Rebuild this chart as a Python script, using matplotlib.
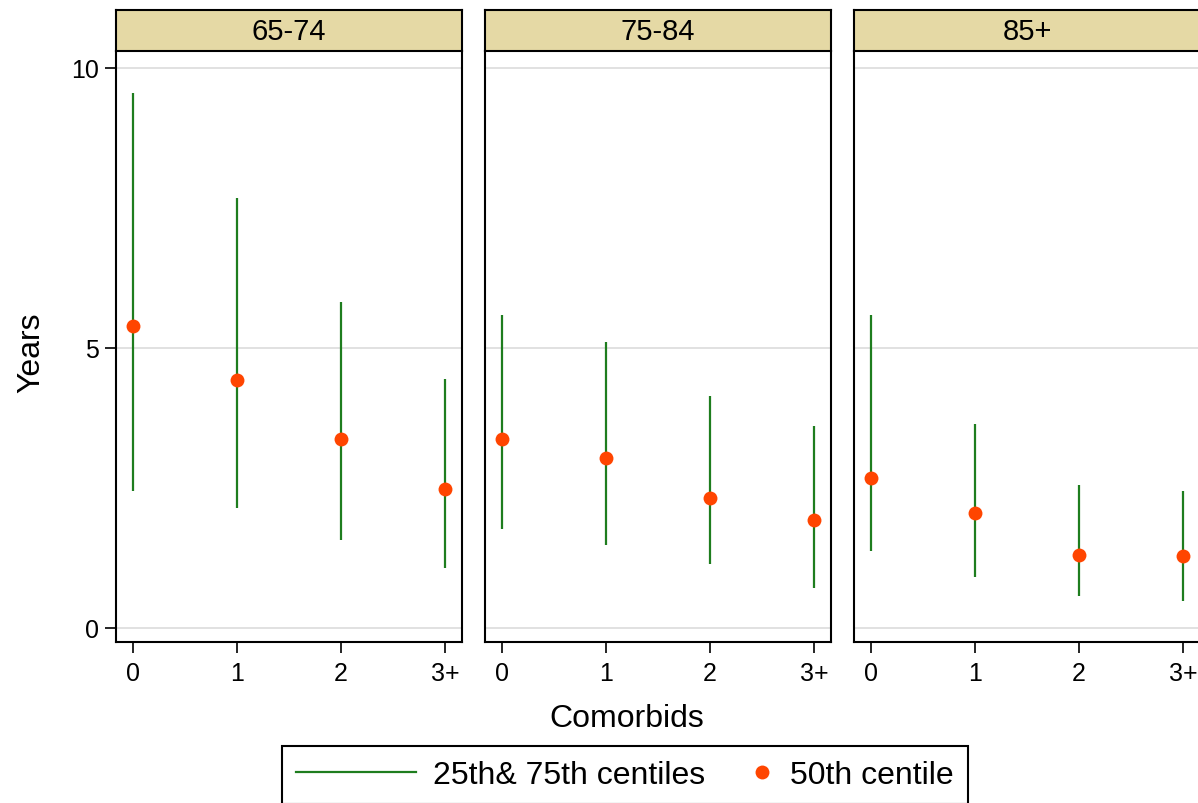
import matplotlib
matplotlib.use('Agg')
import matplotlib.pyplot as plt
from matplotlib.lines import Line2D
from matplotlib.legend_handler import HandlerLine2D

plt.rcParams['font.family'] = ['Liberation Sans', 'DejaVu Sans']

age_groups = ['65-74', '75-84', '85+']
comorbids = ['0', '1', '2', '3+']

# centiles of years survived, one row per age group, one value per comorbid count
p25 = [
    [2.45, 2.14, 1.57, 1.06],
    [1.76, 1.48, 1.14, 0.71],
    [1.37, 0.91, 0.56, 0.48],
]
p50 = [
    [5.39, 4.43, 3.37, 2.48],
    [3.37, 3.03, 2.32, 1.93],
    [2.68, 2.04, 1.30, 1.28],
]
p75 = [
    [9.55, 7.68, 5.82, 4.44],
    [5.59, 5.10, 4.13, 3.60],
    [5.59, 3.63, 2.55, 2.44],
]
y_ticks = [0, 5, 10]

GREEN = '#1e7d1e'
ORANGE = '#ff4500'
STRIP = '#e5d9a5'
W, H = 1198, 804


def px_box(left, top, width, height):
    # pixel box (origin top-left) -> figure fraction rect
    return [left / W, 1 - (top + height) / H, width / W, height / H]


class EndMarkerHandler(HandlerLine2D):
    # single marker sitting at the right end of the handle, close to its label
    def get_xdata(self, legend, xdescent, ydescent, width, height, fontsize):
        x = -xdescent + width - 0.33 * fontsize
        return [x, x], [x]


fig = plt.figure(figsize=(W / 100, H / 100), dpi=100)

panel_left = [116, 485, 854]
for i, x0 in enumerate(panel_left):
    ax = fig.add_axes(px_box(x0, 52, 346, 591))
    xs = list(range(len(comorbids)))
    ax.vlines(xs, p25[i], p75[i], color=GREEN, lw=1.6, zorder=2)
    ax.plot(xs, p50[i], 'o', color=ORANGE, ms=10, mec='none', zorder=3)
    ax.set_xlim(-0.163, 3.163)
    ax.set_ylim(-0.255, 10.30)
    ax.set_yticks(y_ticks)
    ax.set_xticks(xs, comorbids)
    ax.grid(axis='y', color='#dcdcdc', lw=1.2)
    ax.set_axisbelow(True)
    ax.spines['top'].set_visible(False)
    for s in ['left', 'right', 'bottom']:
        ax.spines[s].set_linewidth(1.5)
    ax.tick_params(axis='x', direction='out', length=8, width=1.2, labelsize=18, pad=6)
    ax.tick_params(axis='y', direction='out', length=8, width=1.2, labelsize=18, pad=4)
    if i > 0:
        ax.tick_params(axis='y', left=False, labelleft=False)

    hx = fig.add_axes(px_box(x0, 11, 346, 41))
    hx.set_facecolor(STRIP)
    hx.set_xticks([])
    hx.set_yticks([])
    for s in hx.spines.values():
        s.set_linewidth(1.5)
    hx.text(0.5, 0.48, age_groups[i], ha='center', va='center', fontsize=21)

fig.supylabel('Years', x=31 / W, y=1 - 353 / H, ha='center', va='center', fontsize=23)
fig.supxlabel('Comorbids', x=627 / W, y=1 - 719 / H, ha='center', va='center', fontsize=23)

handles = [
    Line2D([], [], color=GREEN, lw=1.6),
    Line2D([], [], ls='none', marker='o', color=ORANGE, ms=10, mec='none'),
]
labels = ['25th& 75th centiles', '50th centile']
leg = fig.legend(handles, labels, loc='upper left',
                 bbox_to_anchor=(281.5 / W, 1 - 746.7 / H), borderaxespad=0,
                 ncol=2, fontsize=23, frameon=True, fancybox=False,
                 edgecolor='black', framealpha=1, borderpad=0.45,
                 handlelength=3.76, handletextpad=0.53, columnspacing=-1.64,
                 handler_map={handles[1]: EndMarkerHandler(numpoints=1)})
leg.get_frame().set_linewidth(1.5)

fig.savefig('out.png', dpi=100)
